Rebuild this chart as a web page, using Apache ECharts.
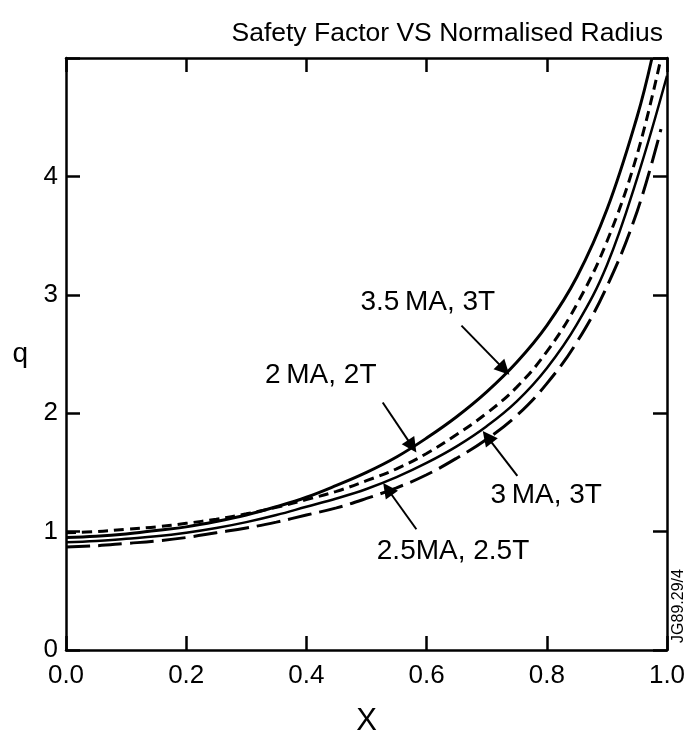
<!DOCTYPE html>
<html>
<head>
<meta charset="utf-8">
<script src="https://cdn.jsdelivr.net/npm/echarts@6/dist/echarts.min.js"></script>
<style>
  html, body { margin: 0; padding: 0; background: #fff; }
  #chart { width: 689px; height: 731px; }
</style>
</head>
<body>
<div id="chart"></div>
<script>
// normalised radius samples, q
const xA = [0, 0.05, 0.1, 0.15, 0.2, 0.25, 0.3, 0.35, 0.4, 0.45, 0.5, 0.55, 0.6, 0.65, 0.7, 0.75, 0.8, 0.85, 0.9, 0.95, 0.975];
const qA = [0.95, 0.96, 0.98, 1.01, 1.04, 1.085, 1.14, 1.21, 1.29, 1.39, 1.50, 1.63, 1.79, 1.97, 2.18, 2.43, 2.74, 3.15, 3.72, 4.5, 5.0];

const xB = [0, 0.05, 0.1, 0.15, 0.2, 0.25, 0.3, 0.35, 0.4, 0.45, 0.5, 0.55, 0.6, 0.65, 0.7, 0.75, 0.8, 0.85, 0.9, 0.95, 0.99];
const qB = [0.99, 1.0, 1.02, 1.04, 1.07, 1.105, 1.15, 1.205, 1.27, 1.34, 1.43, 1.53, 1.66, 1.82, 2.0, 2.22, 2.52, 2.92, 3.45, 4.18, 5.0];

const xC = [0, 0.05, 0.1, 0.15, 0.2, 0.25, 0.3, 0.35, 0.4, 0.45, 0.5, 0.55, 0.6, 0.65, 0.7, 0.75, 0.8, 0.85, 0.9, 0.95, 1.0];
const qC = [0.91, 0.92, 0.94, 0.96, 0.99, 1.03, 1.08, 1.14, 1.21, 1.28, 1.36, 1.46, 1.58, 1.72, 1.89, 2.1, 2.38, 2.75, 3.25, 3.98, 4.85];

const xD = [0, 0.05, 0.1, 0.15, 0.2, 0.25, 0.3, 0.35, 0.4, 0.45, 0.5, 0.55, 0.6, 0.65, 0.7, 0.75, 0.8, 0.85, 0.9, 0.95, 0.99];
const qD = [0.87, 0.88, 0.90, 0.92, 0.95, 0.99, 1.03, 1.08, 1.14, 1.20, 1.28, 1.37, 1.48, 1.62, 1.78, 1.98, 2.25, 2.6, 3.07, 3.7, 4.4];

const xTicks = [0, 0.2, 0.4, 0.6, 0.8, 1.0];
const qTicks = [0, 1, 2, 3, 4];

// annotation labels: text, label centre, arrow tail, arrow tip (data units)
const labels = ['2\u2009MA, 2T', '3.5\u2009MA, 3T', '3\u2009MA, 3T', '2.5MA, 2.5T'];
const labelAt = [[0.424, 2.32], [0.602, 2.94], [0.799, 1.31], [0.644, 0.83]];
const arrowTail = [[0.527, 2.09], [0.658, 2.74], [0.751, 1.47], [0.583, 1.02]];
const arrowTip = [[0.576, 1.72], [0.729, 2.37], [0.701, 1.80], [0.535, 1.36]];

const FONT = '"Liberation Sans", Arial, sans-serif';
const zip = (xs, ys) => xs.map((x, i) => [x, ys[i]]);

const chart = echarts.init(document.getElementById('chart'));

const axisLine = { show: true, onZero: false, lineStyle: { color: '#000', width: 2.5 } };
const tick = { show: true, inside: true, length: 14, lineStyle: { color: '#000', width: 2.5 } };

function arrow(i) {
  return {
    silent: true,
    symbol: ['none', 'triangle'],
    symbolSize: 15,
    label: { show: false },
    lineStyle: { color: '#000', width: 2, type: 'solid' },
    itemStyle: { color: '#000' },
    emphasis: { disabled: true },
    animation: false,
    data: [[{ coord: arrowTail[i] }, { coord: arrowTip[i] }]]
  };
}

function curve(name, data, width, type, i) {
  return {
    name,
    type: 'line',
    data,
    smooth: 0.4,
    showSymbol: false,
    silent: true,
    lineStyle: { color: '#000', width, type },
    emphasis: { disabled: true },
    markLine: arrow(i)
  };
}

const option = {
  backgroundColor: '#fff',
  animation: false,
  title: {
    text: 'Safety Factor VS Normalised Radius',
    right: 21,
    top: 15,
    textStyle: { fontFamily: FONT, fontSize: 26.5, fontWeight: 'normal', color: '#000' }
  },
  grid: { left: 66, right: 22, top: 58, bottom: 81, outerBoundsMode: 'none', containLabel: false },
  xAxis: [
    {
      type: 'value', min: 0, max: 1, interval: 0.2, position: 'bottom',
      name: 'X', nameLocation: 'middle', nameGap: 56,
      nameTextStyle: { fontFamily: FONT, fontSize: 31, color: '#000' },
      axisLine, axisTick: tick, splitLine: { show: false },
      axisLabel: {
        fontFamily: FONT, fontSize: 26, color: '#000', margin: 13,
        formatter: v => (xTicks.includes(+v.toFixed(1)) ? v.toFixed(1) : '')
      }
    },
    {
      type: 'value', min: 0, max: 1, interval: 0.2, position: 'top',
      axisLine, axisTick: tick, splitLine: { show: false }, axisLabel: { show: false }
    }
  ],
  yAxis: [
    {
      type: 'value', min: 0, max: 5, interval: 1, position: 'left',
      name: 'q', nameLocation: 'middle', nameGap: 38, nameRotate: 0,
      nameTextStyle: { fontFamily: FONT, fontSize: 28, color: '#000' },
      axisLine, axisTick: tick, splitLine: { show: false },
      axisLabel: {
        fontFamily: FONT, fontSize: 26, color: '#000', margin: 8,
        formatter: v => (qTicks.includes(v) ? String(v) : '')
      }
    },
    {
      type: 'value', min: 0, max: 5, interval: 1, position: 'right',
      axisLine, axisTick: tick, splitLine: { show: false }, axisLabel: { show: false }
    }
  ],
  series: [
    curve(labels[0], zip(xA, qA), 3, 'solid', 0),
    curve(labels[1], zip(xB, qB), 3, [10, 6], 1),
    curve(labels[2], zip(xC, qC), 2.5, 'solid', 2),
    curve(labels[3], zip(xD, qD), 3, [24, 8], 3)
  ]
};

chart.setOption(option);

// text labels placed through the chart's own scales
const graphics = labels.map((t, i) => {
  const p = chart.convertToPixel({ xAxisIndex: 0, yAxisIndex: 0 }, labelAt[i]);
  return {
    type: 'text', x: p[0], y: p[1], silent: true,
    style: { text: t, fontFamily: FONT, fontSize: 28, fill: '#000', align: 'center', verticalAlign: 'middle' }
  };
});
graphics.push({
  type: 'text', x: 679, y: 606, rotation: Math.PI / 2, silent: true,
  style: { text: 'JG89.29/4', fontFamily: FONT, fontSize: 16, fill: '#000', align: 'center', verticalAlign: 'middle' }
});
chart.setOption({ graphic: graphics });
</script>
</body>
</html>
